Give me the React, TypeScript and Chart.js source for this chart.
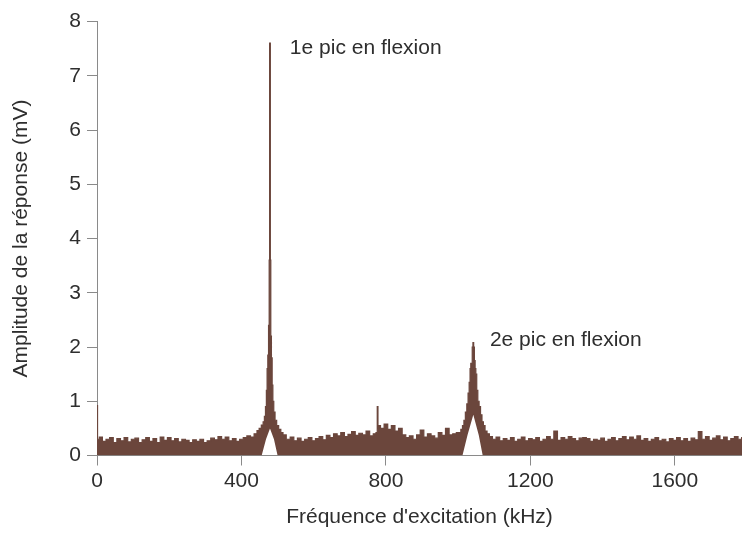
import React, { useEffect, useRef } from "react";
import { Chart, registerables } from "chart.js";

Chart.register(...registerables);

// ---- Data (frequency in kHz, amplitude in mV) ----
const noiseStep = 10;

// spike at the very start of the sweep
const edgeFreq = [0, 3];
const edgeAmp = [0.92, 0.3];

// noise floor 10..440 kHz
const noiseAStart = 10;
const noiseA = [
  0.34, 0.26, 0.30, 0.33, 0.24, 0.31, 0.27, 0.33, 0.25, 0.30,
  0.32, 0.24, 0.29, 0.33, 0.26, 0.31, 0.24, 0.34, 0.28, 0.33,
  0.27, 0.31, 0.25, 0.30, 0.28, 0.24, 0.29, 0.26, 0.30, 0.24,
  0.27, 0.32, 0.29, 0.35, 0.30, 0.34, 0.27, 0.31, 0.26, 0.30,
  0.33, 0.36, 0.34, 0.40,
];

// first bending peak
const peak1Freq = [446, 452, 458, 462, 465, 468, 470, 472, 474, 476, 477.5, 478.5, 479.5, 480.5, 482, 484, 486, 488, 491, 495, 500, 506, 512, 518];
const peak1Amp = [0.46, 0.50, 0.56, 0.62, 0.72, 0.90, 1.2, 1.6, 1.85, 2.4, 3.6, 7.6, 7.6, 3.6, 2.2, 1.8, 1.3, 1.0, 0.8, 0.65, 0.55, 0.48, 0.42, 0.38];

// noise floor 530..1000 kHz
const noiseBStart = 530;
const noiseB = [
  0.30, 0.34, 0.27, 0.32, 0.26, 0.30, 0.33, 0.27, 0.31, 0.35,
  0.29, 0.37, 0.33, 0.40, 0.36, 0.42, 0.35, 0.39, 0.44, 0.37,
  0.41, 0.38, 0.45, 0.36, 0.40, 0.55, 0.50, 0.58, 0.48, 0.55,
  0.45, 0.50, 0.38, 0.33, 0.36, 0.30, 0.38, 0.47, 0.34, 0.40,
  0.36, 0.32, 0.42, 0.37, 0.50, 0.38, 0.40, 0.42,
];

// small spike near 777 kHz
const spikeFreq = [775, 777, 779];
const spikeAmp = [0.42, 0.9, 0.5];

// second bending peak
const peak2Freq = [1005, 1010, 1014, 1018, 1022, 1026, 1029, 1032, 1034, 1036, 1038, 1040, 1042, 1044, 1046, 1048, 1050, 1053, 1056, 1060, 1064, 1068, 1072, 1077, 1083, 1090];
const peak2Amp = [0.42, 0.48, 0.55, 0.65, 0.80, 0.95, 1.15, 1.35, 1.6, 1.7, 1.7, 2.0, 2.08, 2.0, 1.75, 1.6, 1.5, 1.2, 1.0, 0.9, 0.75, 0.62, 0.55, 0.45, 0.40, 0.35];

// noise floor 1100..1790 kHz
const noiseCStart = 1100;
const noiseC = [
  0.30, 0.34, 0.27, 0.31, 0.28, 0.33, 0.26, 0.30, 0.34, 0.27,
  0.31, 0.29, 0.33, 0.26, 0.30, 0.35, 0.30, 0.45, 0.28, 0.33,
  0.30, 0.35, 0.31, 0.27, 0.32, 0.33, 0.31, 0.26, 0.30, 0.28,
  0.32, 0.26, 0.30, 0.33, 0.27, 0.31, 0.35, 0.29, 0.34, 0.30,
  0.36, 0.28, 0.31, 0.26, 0.30, 0.33, 0.27, 0.30, 0.25, 0.31,
  0.28, 0.33, 0.27, 0.31, 0.26, 0.32, 0.29, 0.44, 0.30, 0.35,
  0.28, 0.32, 0.36, 0.29, 0.34, 0.27, 0.31, 0.35, 0.30, 0.33,
];

// lower envelope of the noisy trace (white gaps beneath the peaks)
const lowerFreq = [0, 456, 468, 479, 490, 500, 1012, 1026, 1042, 1057, 1068, 1790];
const lowerAmp = [0, 0, 0.3, 0.5, 0.3, 0, 0, 0.38, 0.75, 0.38, 0, 0];

// annotations
const peakLabels = ["1e pic en flexion", "2e pic en flexion"];
const peakLabelFreq = [534, 1088];
const peakLabelAmp = [7.51, 2.13];

const xTitle = "Fréquence d'excitation (kHz)";
const yTitle = "Amplitude de la réponse (mV)";
const xMin = 0;
const xMax = 1786;
const xStep = 400;
const yMin = 0;
const yMax = 8;
const yStep = 1;

// ---- helpers ----
type P = { x: number; y: number };
const grid = (start: number, values: number[]): P[] =>
  values.map((v, i) => ({ x: start + i * noiseStep, y: v }));
const pairs = (f: number[], a: number[]): P[] => f.map((x, i) => ({ x, y: a[i] }));

const FONT_FAMILY = '"Liberation Sans", Arial, sans-serif';
const BROWN = "#6b463c";
const AXIS = "#8a8a8a";
const TEXT = "#2e2e2e";

export default function App() {
  const canvasRef = useRef<HTMLCanvasElement | null>(null);

  useEffect(() => {
    const canvas = canvasRef.current;
    if (!canvas) return;

    const upper = [
      ...pairs(edgeFreq, edgeAmp),
      ...grid(noiseAStart, noiseA),
      ...pairs(peak1Freq, peak1Amp),
      ...grid(noiseBStart, noiseB),
      ...pairs(spikeFreq, spikeAmp),
      ...pairs(peak2Freq, peak2Amp),
      ...grid(noiseCStart, noiseC),
    ].sort((a, b) => a.x - b.x);
    const lower = pairs(lowerFreq, lowerAmp);

    const labelPlugin = {
      id: "peakLabels",
      afterDatasetsDraw(chart: any) {
        const { ctx, scales } = chart;
        ctx.save();
        ctx.font = `21px ${FONT_FAMILY}`;
        ctx.fillStyle = TEXT;
        ctx.textBaseline = "middle";
        ctx.textAlign = "left";
        peakLabels.forEach((t, i) => {
          ctx.fillText(
            t,
            scales.x.getPixelForValue(peakLabelFreq[i]),
            scales.y.getPixelForValue(peakLabelAmp[i])
          );
        });
        ctx.restore();
      },
    };

    const font = { family: FONT_FAMILY, size: 21 };

    const chart = new Chart(canvas, {
      type: "line",
      data: {
        datasets: [
          {
            data: upper,
            borderColor: BROWN,
            backgroundColor: BROWN,
            borderWidth: 1.2,
            pointRadius: 0,
            tension: 0,
            stepped: "middle",
            fill: "+1",
          },
          {
            data: lower,
            borderColor: "rgba(0,0,0,0)",
            borderWidth: 0,
            pointRadius: 0,
            tension: 0,
            fill: false,
          },
        ],
      },
      options: {
        animation: false,
        responsive: false,
        devicePixelRatio: 1,
        parsing: false,
        layout: { padding: { left: 0, right: 0, top: 21.5, bottom: 0 } },
        plugins: {
          legend: { display: false },
          tooltip: { enabled: false },
        },
        scales: {
          x: {
            type: "linear",
            position: "bottom",
            min: xMin,
            max: xMax,
            border: { display: true, color: AXIS, width: 1 },
            grid: {
              display: true,
              drawOnChartArea: false,
              drawTicks: true,
              tickLength: 10,
              color: AXIS,
            },
            ticks: {
              stepSize: xStep,
              includeBounds: false,
              color: TEXT,
              font,
              padding: 3,
              maxRotation: 0,
              callback: (v: any) => String(v),
            },
            title: {
              display: true,
              text: xTitle,
              color: TEXT,
              font,
              padding: { top: 4, bottom: 4 },
            },
            afterFit: (s: any) => {
              s.height = 534 - 455.5;
            },
          },
          y: {
            type: "linear",
            min: yMin,
            max: yMax,
            border: { display: true, color: AXIS, width: 1 },
            grid: {
              display: true,
              drawOnChartArea: false,
              drawTicks: true,
              tickLength: 10,
              color: AXIS,
            },
            ticks: {
              stepSize: yStep,
              color: TEXT,
              font,
              padding: 6,
              callback: (v: any) => String(v),
            },
            title: {
              display: true,
              text: yTitle,
              color: TEXT,
              font,
              padding: { top: 9, bottom: 0 },
            },
            afterFit: (s: any) => {
              s.width = 97;
            },
          },
        },
      },
      plugins: [labelPlugin],
    } as any);

    return () => chart.destroy();
  }, []);

  return (
    <div style={{ position: "absolute", left: 0, top: 0, width: 742, height: 534, background: "#fff" }}>
      <canvas ref={canvasRef} width={742} height={534} style={{ display: "block" }} />
    </div>
  );
}
